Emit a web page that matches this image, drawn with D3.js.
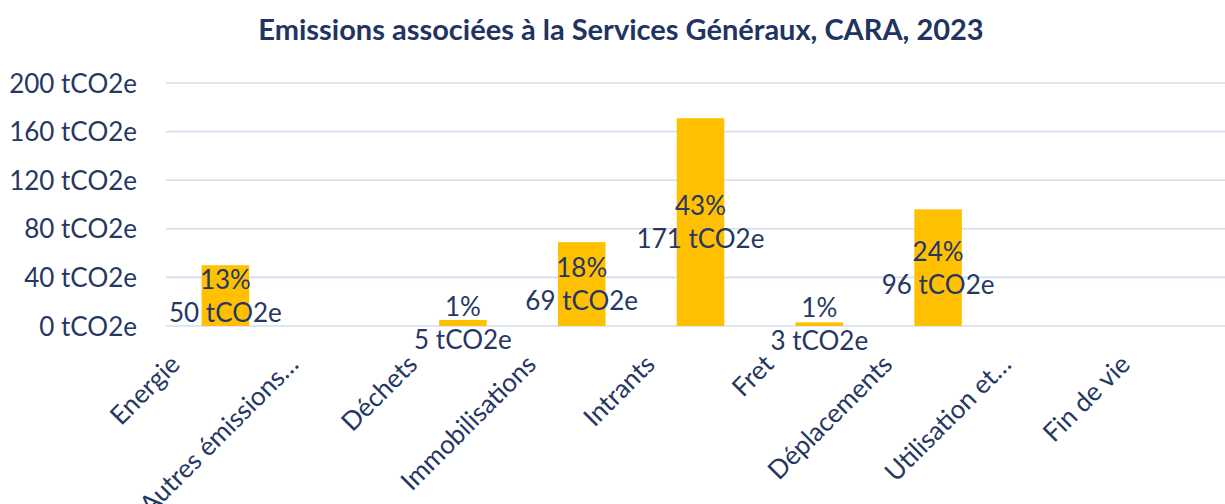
<!DOCTYPE html>
<html lang="fr">
<head>
  <meta charset="UTF-8">
  <title>Emissions associées à la Services Généraux, CARA, 2023</title>
  <script src="https://d3js.org/d3.v7.min.js"></script>
  <style>
    body {
      margin: 0;
      background: #ffffff;
      font-family: Lato, 'Open Sans', sans-serif;
    }
    svg text {
      fill: #263763;
    }
  </style>
</head>
<body>
  <div id="chart"></div>

  <script>
    const categories = ["Energie", "Autres émissions…", "Déchets", "Immobilisations", "Intrants",
      "Fret", "Déplacements", "Utilisation et…", "Fin de vie"];
    const emissions = [50, 0, 5, 69, 171, 3, 96, 0, 0];
    const shares = ["13%", "", "1%", "18%", "43%", "1%", "24%", "", ""];
    const yTicks = [0, 40, 80, 120, 160, 200];
    const chartTitle = "Emissions associées à la Services Généraux, CARA, 2023";

    const width = 1225, height = 504;
    const plot = { left: 166, right: 1235, top: 83, bottom: 326 };

    const svg = d3.select("#chart")
      .append("svg")
      .attr("width", width)
      .attr("height", height);

    const x = d3.scaleBand()
      .domain(categories)
      .range([plot.left, plot.right])
      .paddingInner(0.6)
      .paddingOuter(0.3);

    const y = d3.scaleLinear()
      .domain([0, 200])
      .range([plot.bottom, plot.top]);

    // title
    svg.append("text")
      .attr("x", 621)
      .attr("y", 40)
      .attr("text-anchor", "middle")
      .style("font-size", "29px")
      .style("font-weight", "bold")
      .style("fill", "#1f3462")
      .text(chartTitle);

    // gridlines
    svg.append("g")
      .selectAll("line")
      .data(yTicks)
      .join("line")
      .attr("x1", plot.left)
      .attr("x2", width)
      .attr("y1", d => y(d))
      .attr("y2", d => y(d))
      .attr("stroke", "#d6dcee")
      .attr("stroke-width", 1.6);

    // y axis labels
    const yAxis = d3.axisLeft(y)
      .tickValues(yTicks)
      .tickSize(0)
      .tickPadding(0)
      .tickFormat(d => d + " tCO2e");
    svg.append("g")
      .attr("transform", "translate(137,0)")
      .call(yAxis)
      .call(g => g.select(".domain").remove())
      .selectAll("text")
      .attr("dy", "0.35em")
      .style("font-family", "Lato, sans-serif")
      .style("font-size", "26px");

    // bars
    svg.append("g")
      .selectAll("rect")
      .data(emissions)
      .join("rect")
      .attr("x", (d, i) => x(categories[i]))
      .attr("width", x.bandwidth())
      .attr("y", d => y(d))
      .attr("height", d => y(0) - y(d))
      .attr("fill", "#ffc000");

    // data labels (centered in bar, two lines)
    const labels = svg.append("g")
      .selectAll("text")
      .data(emissions.map((v, i) => ({ v, i })).filter(d => d.v > 0))
      .join("text")
      .attr("text-anchor", "middle")
      .style("font-size", "26px");

    labels.append("tspan")
      .attr("x", d => x(categories[d.i]) + x.bandwidth() / 2)
      .attr("y", d => (y(d.v) + y(0)) / 2 - 16)
      .attr("dy", "0.35em")
      .text(d => shares[d.i]);

    labels.append("tspan")
      .attr("x", d => x(categories[d.i]) + x.bandwidth() / 2)
      .attr("y", d => (y(d.v) + y(0)) / 2 + 17)
      .attr("dy", "0.35em")
      .text(d => d.v + " tCO2e");

    // category labels, rotated
    svg.append("g")
      .selectAll("text")
      .data(categories)
      .join("text")
      .attr("text-anchor", "end")
      .attr("transform", d => `translate(${x(d) + x.bandwidth() / 2 - 44},366) rotate(-45)`)
      .style("font-size", "26px")
      .text(d => d);
  </script>
</body>
</html>
